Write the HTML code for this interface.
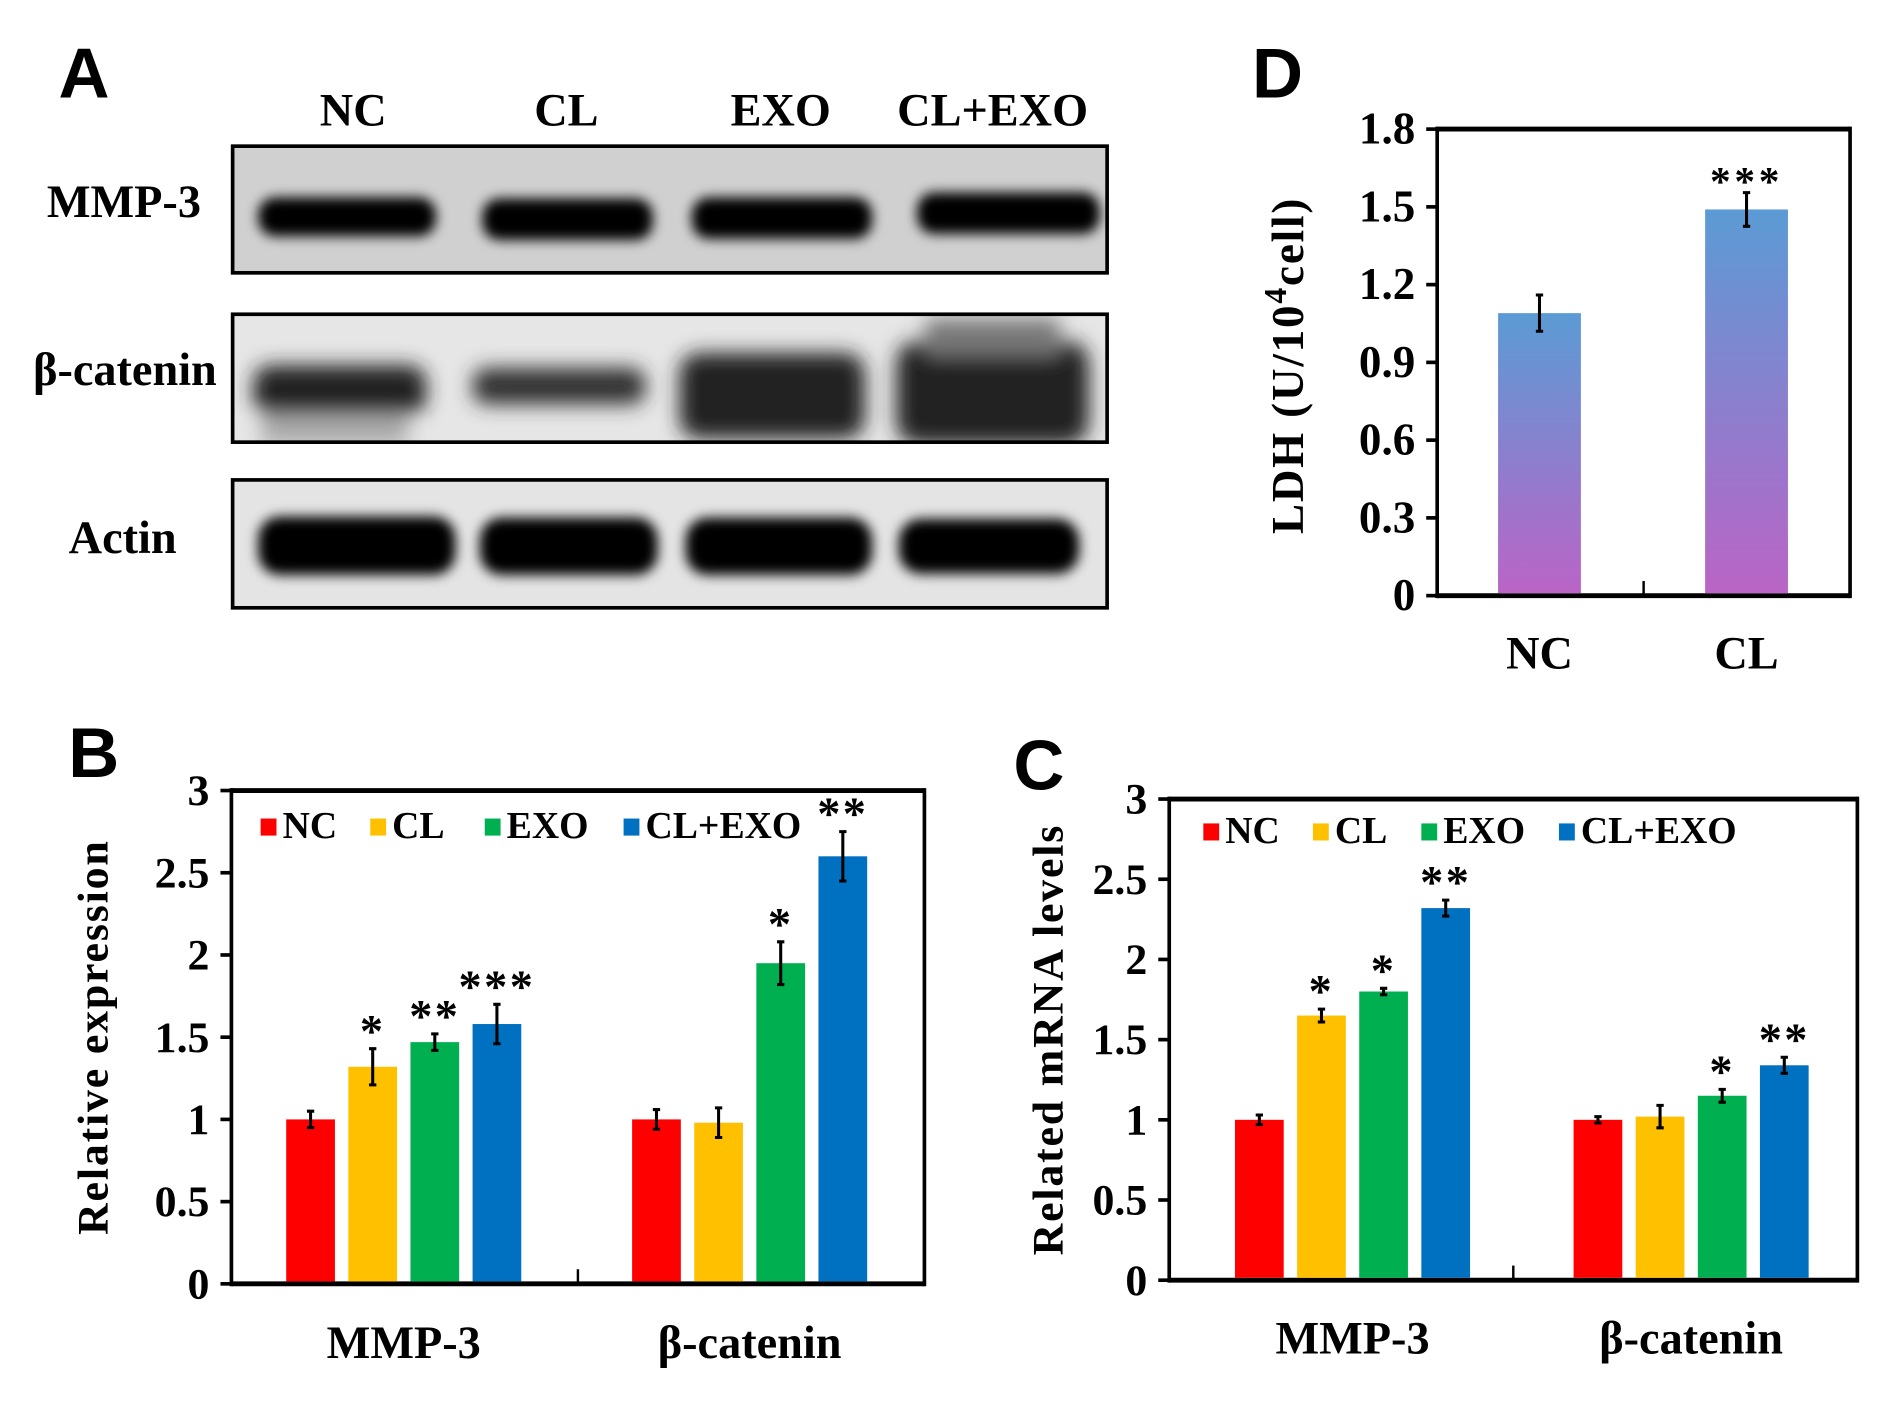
<!DOCTYPE html>
<html><head><meta charset="utf-8"><style>
html,body{margin:0;padding:0;background:#fff;}
svg{display:block;}
text{font-family:"Liberation Serif",serif;font-weight:bold;fill:#000;}
.lt{font-family:"Liberation Sans",sans-serif;font-weight:bold;}
</style></head><body>
<svg id="fig" width="1900" height="1402" viewBox="0 0 1560 1151" preserveAspectRatio="none" xmlns="http://www.w3.org/2000/svg">
<defs>
<filter id="blur" x="-20%" y="-50%" width="140%" height="200%"><feGaussianBlur stdDeviation="5"/></filter>
<filter id="blur2" x="-20%" y="-50%" width="140%" height="200%"><feGaussianBlur stdDeviation="8"/></filter>
<linearGradient id="gradD" x1="0" y1="0" x2="0" y2="1"><stop offset="0" stop-color="#5b9bd5"/><stop offset="1" stop-color="#ba64c6"/></linearGradient>
<clipPath id="c1"><rect x="191" y="120" width="718" height="104"/></clipPath>
<clipPath id="c2"><rect x="191" y="258" width="718" height="105"/></clipPath>
<clipPath id="c3"><rect x="191" y="394" width="718" height="105"/></clipPath>
</defs>

<g>
<text class="lt" x="48" y="80" font-size="58">A</text>
<g font-size="38" text-anchor="middle">
<text x="290" y="103">NC</text>
<text x="465" y="103">CL</text>
<text x="641" y="103">EXO</text>
<text x="815" y="103">CL+EXO</text>
</g>
<text x="165" y="178" font-size="38" text-anchor="end">MMP-3</text>
<text x="178" y="316" font-size="38" text-anchor="end">β-catenin</text>
<text x="145" y="454" font-size="38" text-anchor="end">Actin</text>

<g clip-path="url(#c1)">
<rect x="191" y="120" width="718" height="104" fill="#d0d0d0"/>
<g filter="url(#blur)" fill="#000">
<rect x="212" y="162" width="146" height="32" rx="14"/>
<rect x="396" y="163" width="140" height="34" rx="14"/>
<rect x="568" y="162" width="148" height="34" rx="14"/>
<rect x="753" y="158" width="150" height="34" rx="14"/>
</g></g>
<rect x="191" y="120" width="718" height="104" fill="none" stroke="#000" stroke-width="3"/>

<g clip-path="url(#c2)">
<rect x="191" y="258" width="718" height="105" fill="#e6e6e6"/>
<g filter="url(#blur2)" fill="#222">
<rect x="208" y="300" width="142" height="40" rx="14"/>
<rect x="215" y="340" width="120" height="25" fill="#aaa"/>
<rect x="388" y="302" width="142" height="30" rx="12" fill="#333"/>
<rect x="558" y="290" width="152" height="70" rx="16"/>
<rect x="736" y="280" width="158" height="85" rx="18"/>
<rect x="760" y="262" width="110" height="30" fill="#777"/>
</g></g>
<rect x="191" y="258" width="718" height="105" fill="none" stroke="#000" stroke-width="3"/>

<g clip-path="url(#c3)">
<rect x="191" y="394" width="718" height="105" fill="#e4e4e4"/>
<g filter="url(#blur)" fill="#000">
<rect x="212" y="424" width="162" height="48" rx="18"/>
<rect x="394" y="425" width="146" height="47" rx="18"/>
<rect x="563" y="425" width="153" height="47" rx="18"/>
<rect x="738" y="426" width="148" height="45" rx="18"/>
</g></g>
<rect x="191" y="394" width="718" height="105" fill="none" stroke="#000" stroke-width="3"/>
</g>

<text class="lt" x="1028" y="80" font-size="58">D</text>
<text class="lt" x="56" y="638" font-size="58">B</text>
<text class="lt" x="832" y="648" font-size="58">C</text>

<g id="chartD"></g>
<g id="chartB"></g>
<g id="chartC"></g>
</svg>
<script>
// ---- Chart D data ----
const dCategories = ["NC", "CL"];
const dValues = [1.09, 1.49];
const dErrors = [0.07, 0.065];
const dStars = ["", "***"];
const dTicks = ["0", "0.3", "0.6", "0.9", "1.2", "1.5", "1.8"];

// ---- Chart B data ----
const bGroups = ["MMP-3", "β-catenin"];
const bSeries = ["NC", "CL", "EXO", "CL+EXO"];
const bMMP3 = [1.0, 1.32, 1.47, 1.58];
const bBeta = [1.0, 0.98, 1.95, 2.60];
const bMMP3Err = [0.05, 0.11, 0.05, 0.12];
const bBetaErr = [0.06, 0.09, 0.13, 0.15];
const bMMP3Stars = ["", "*", "**", "***"];
const bBetaStars = ["", "", "*", "**"];
const bTicks = ["0", "0.5", "1", "1.5", "2", "2.5", "3"];

// ---- Chart C data ----
const cGroups = ["MMP-3", "β-catenin"];
const cSeries = ["NC", "CL", "EXO", "CL+EXO"];
const cMMP3 = [1.0, 1.65, 1.80, 2.32];
const cBeta = [1.0, 1.02, 1.15, 1.34];
const cMMP3Err = [0.03, 0.04, 0.02, 0.05];
const cBetaErr = [0.02, 0.07, 0.04, 0.05];
const cMMP3Stars = ["", "*", "*", "**"];
const cBetaStars = ["", "", "*", "**"];
const cTicks = ["0", "0.5", "1", "1.5", "2", "2.5", "3"];

const seriesColors = ["#ff0000", "#ffc000", "#00b050", "#0070c0"];
const NS = "http://www.w3.org/2000/svg";
function mk(parent, tag, attrs, txt) {
  const e = document.createElementNS(NS, tag);
  for (const k in attrs) e.setAttribute(k, attrs[k]);
  if (txt !== undefined) e.textContent = txt;
  parent.appendChild(e);
  return e;
}

function drawFrame(g, L, R, T, B, ticks, ymax, titleText, titleX, tickFont) {
  const y = v => B - (v / ymax) * (B - T);
  mk(g, "line", {x1:L, y1:T, x2:R, y2:T, stroke:"#000", "stroke-width":4});
  mk(g, "line", {x1:L, y1:B, x2:R, y2:B, stroke:"#000", "stroke-width":4});
  mk(g, "line", {x1:L, y1:T-2, x2:L, y2:B+2, stroke:"#000", "stroke-width":3});
  mk(g, "line", {x1:R, y1:T-2, x2:R, y2:B+2, stroke:"#000", "stroke-width":3});
  ticks.forEach(t => {
    const yy = y(parseFloat(t));
    const tk = mk(g, "line", {x1:L-9, y1:yy, x2:L, y2:yy, stroke:"#000", "stroke-width":3});
    
    
    const tl = mk(g, "text", {x:L-18, y:yy+12, "font-size":tickFont, "text-anchor":"end"}, t);
    
    
  });
  const mid = (L + R) / 2;
  mk(g, "line", {x1:mid, y1:B-12, x2:mid, y2:B, stroke:"#000", "stroke-width":2});
  if (titleText) {
    const tt = mk(g, "text", {x:titleX, y:(T+B)/2, "font-size":36, "letter-spacing":"1.5", "text-anchor":"middle", transform:`rotate(-90 ${titleX} ${(T+B)/2})`, "dominant-baseline":"middle"}, titleText);
    
    
  }
  return y;
}

function errBar(g, cx, yt, yb) {
  const e = mk(g, "path", {d:`M${cx} ${yt}V${yb}M${cx-3} ${yt}H${cx+3}M${cx-3} ${yb}H${cx+3}`, stroke:"#000", "stroke-width":2.5, fill:"none"});
  
  
}

// Chart D
(function(){
  const g = document.getElementById("chartD");
  const L=1180, R=1519, T=106, B=489;
  const y = drawFrame(g, L, R, T, B, dTicks, 1.8, "", 0, 37);
  const t = mk(g, "text", {x:1070, y:300, "font-size":37, "letter-spacing":"1.5", "text-anchor":"middle", transform:"rotate(-90 1070 300)"});
  
  
  t.appendChild(document.createTextNode("LDH (U/10"));
  mk(t, "tspan", {dy:-14, "font-size":26}, "4");
  mk(t, "tspan", {dy:14}, "cell)");
  const centers = [1264, 1434];
  dCategories.forEach((c, i) => {
    const cx = centers[i], w = 68;
    const bar = mk(g, "rect", {x:cx-w/2, y:y(dValues[i]), width:w, height:B-2-y(dValues[i]), fill:"url(#gradD)"});
    
    
    errBar(g, cx, y(dValues[i]+dErrors[i]), y(dValues[i]-dErrors[i]));
    if (dStars[i]) {
      const s = mk(g, "text", {x:cx, y:y(dValues[i]+dErrors[i])+2, "font-size":34, "text-anchor":"middle", "letter-spacing":"3"}, dStars[i]);
      
      
    }
    const xl = mk(g, "text", {x:cx, y:549, "font-size":38, "text-anchor":"middle"}, c);
    
    
  });
})();

function groupChart(gid, L, R, T, B, ticks, title, titleX, groups, series, vals, errs, stars, groupStarts, legendX, legendY, xLabelY) {
  const g = document.getElementById(gid);
  const y = drawFrame(g, L, R, T, B, ticks, 3, title, titleX, 36);
  const w = 40, step = 51;
  groups.forEach((grp, gi) => {
    series.forEach((s, si) => {
      const x0 = groupStarts[gi] + si*step;
      const v = vals[gi][si], e = errs[gi][si];
      const bar = mk(g, "rect", {x:x0, y:y(v), width:w, height:B-2-y(v), fill:seriesColors[si]});
      
      
      const cx = x0 + w/2;
      errBar(g, cx, y(v+e), y(v-e));
      if (stars[gi][si]) {
        const st = mk(g, "text", {x:cx, y:y(v+e)-2, "font-size":38, "text-anchor":"middle", "letter-spacing":"2"}, stars[gi][si]);
        
        
      }
    });
    const xl = mk(g, "text", {x:groupStarts[gi] + (3*step+w)/2, y:xLabelY, "font-size":38, "text-anchor":"middle"}, grp);
    
    
  });
  series.forEach((s, si) => {
    const lx = legendX[si];
    const sw = mk(g, "rect", {x:lx, y:legendY-16, width:13, height:14, fill:seriesColors[si]});
    
    
    const lt = mk(g, "text", {x:lx+18, y:legendY, "font-size":31}, s);
    
    
  });
}

groupChart("chartB", 190, 759, 649, 1054, bTicks, "Relative expression", 80,
  bGroups, bSeries, [bMMP3, bBeta], [bMMP3Err, bBetaErr], [bMMP3Stars, bBetaStars],
  [235, 519], [214, 304, 398, 512], 688, 1115);
groupChart("chartC", 960, 1525, 656, 1051, cTicks, "Related mRNA levels", 864,
  cGroups, cSeries, [cMMP3, cBeta], [cMMP3Err, cBetaErr], [cMMP3Stars, cBetaStars],
  [1014, 1292], [988, 1078, 1167, 1280], 692, 1111);
</script>
</body></html>
